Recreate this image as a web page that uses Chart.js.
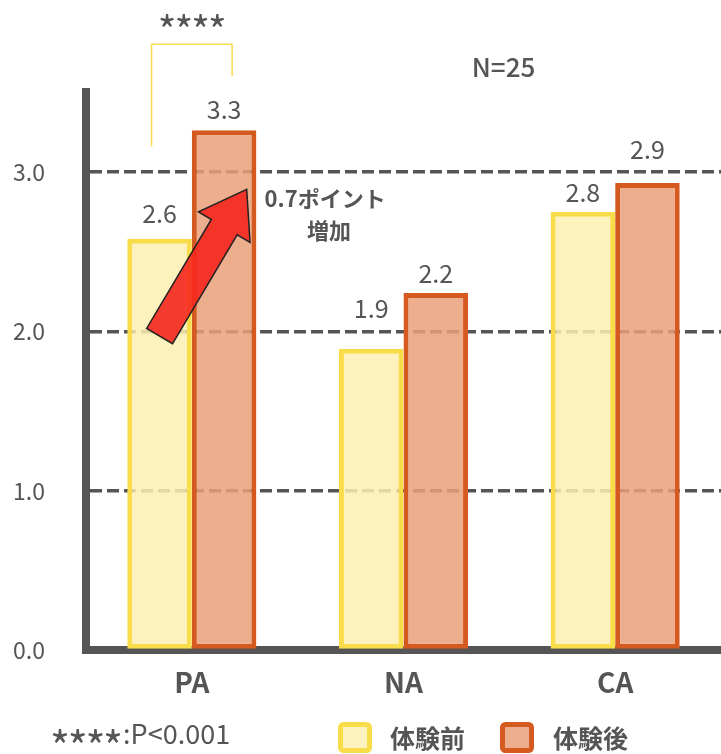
<!DOCTYPE html>
<html>
<head>
<meta charset="utf-8">
<script src="https://cdn.jsdelivr.net/npm/chart.js@4"></script>
<style>
  html, body { margin: 0; padding: 0; background: #fff; }
  #wrap { width: 721px; height: 754px; }
</style>
</head>
<body>
<div id="wrap"><canvas id="chart"></canvas></div>
<script>
const categories = ['PA', 'NA', 'CA'];
const seriesNames = ['体験前', '体験後'];
const before = [2.58, 1.89, 2.75];
const after = [3.26, 2.24, 2.93];
const yTicks = [0, 1, 2, 3];
const sampleNote = 'N=25';
const sigMark = '****';
const sigNote = ':P<0.001';
const increaseNote = ['0.7ポイント', '増加'];

const FONT = '"Noto Sans CJK JP", "Noto Sans", sans-serif';
const TEXT = '#555';
const yellowFill = 'rgba(253, 238, 178, 0.85)';
const yellowLine = '#F9DC4A';
const orangeFill = 'rgba(234, 160, 122, 0.85)';
const orangeLine = '#D55A1F';
// distance of each value label above its bar (px)
const labelGap = [[25, 40, 19], [21, 20, 33]];

function drawArrow(ctx, x0, y0, x1, y1) {
  const dx = x1 - x0, dy = y1 - y0;
  const len = Math.hypot(dx, dy);
  const ux = dx / len, uy = dy / len;
  const nx = -uy, ny = ux;
  const shaft = 15, head = 30, headLen = 44;
  const bx = x1 - ux * headLen, by = y1 - uy * headLen;
  ctx.beginPath();
  ctx.moveTo(x0 + nx * shaft, y0 + ny * shaft);
  ctx.lineTo(bx + nx * shaft, by + ny * shaft);
  ctx.lineTo(bx + nx * head, by + ny * head);
  ctx.lineTo(x1, y1);
  ctx.lineTo(bx - nx * head, by - ny * head);
  ctx.lineTo(bx - nx * shaft, by - ny * shaft);
  ctx.lineTo(x0 - nx * shaft, y0 - ny * shaft);
  ctx.closePath();
  ctx.fillStyle = 'rgba(245, 40, 30, 0.9)';
  ctx.fill();
  ctx.lineWidth = 1.5;
  ctx.strokeStyle = '#222';
  ctx.stroke();
}

// asterisks drawn one by one, sized and centred on their own glyph box
function drawStars(ctx, text, left, cy, glyphW, step) {
  ctx.save();
  ctx.textAlign = 'left';
  ctx.textBaseline = 'alphabetic';
  ctx.font = '100px ' + FONT;
  let m = ctx.measureText('*');
  const size = 100 * glyphW / (m.actualBoundingBoxRight + m.actualBoundingBoxLeft);
  ctx.font = size + 'px ' + FONT;
  m = ctx.measureText('*');
  const base = cy + (m.actualBoundingBoxAscent - m.actualBoundingBoxDescent) / 2;
  [...text].forEach((ch, i) => {
    ctx.fillText(ch, left + i * step + m.actualBoundingBoxLeft, base);
  });
  ctx.restore();
  return left + (text.length - 1) * step + glyphW;
}

const overlay = {
  id: 'overlay',
  afterDraw(chart) {
    const ctx = chart.ctx;
    const y = chart.scales.y;
    const area = chart.chartArea;
    const m0 = chart.getDatasetMeta(0).data;
    const m1 = chart.getDatasetMeta(1).data;
    ctx.save();

    // value labels
    ctx.font = '25px ' + FONT;
    ctx.fillStyle = TEXT;
    ctx.textAlign = 'center';
    ctx.textBaseline = 'middle';
    [m0, m1].forEach((bars, d) => {
      const vals = d === 0 ? before : after;
      bars.forEach((b, i) => {
        ctx.fillText(vals[i].toFixed(1), b.x, b.y - labelGap[d][i]);
      });
    });

    // increase arrow on PA
    const pa0 = m0[0], pa1 = m1[0];
    drawArrow(ctx, pa0.x, y.getPixelForValue(1.97), pa1.x + pa1.width * 0.35, y.getPixelForValue(2.89));

    ctx.font = 'bold 22px ' + FONT;
    ctx.fillStyle = TEXT;
    ctx.fillText(increaseNote[0], pa1.x + 101, y.getPixelForValue(2.83));
    ctx.fillText(increaseNote[1], pa1.x + 105, y.getPixelForValue(2.63));

    // significance bracket
    const top = y.getPixelForValue(3.8);
    const lx = pa0.x - 8, rx = pa1.x + 8;
    ctx.strokeStyle = yellowLine;
    ctx.lineWidth = 1.5;
    ctx.beginPath();
    ctx.moveTo(lx, y.getPixelForValue(3.16));
    ctx.lineTo(lx, top);
    ctx.lineTo(rx, top);
    ctx.lineTo(rx, y.getPixelForValue(3.6));
    ctx.stroke();
    ctx.fillStyle = TEXT;
    drawStars(ctx, sigMark, (lx + rx) / 2 - 32, top - 24, 14, 16.7);

    // sample size
    ctx.font = '500 26px ' + FONT;
    ctx.fillText(sampleNote, chart.scales.x.getPixelForValue(1) + 100, area.top - 25);

    // footnote
    const end = drawStars(ctx, sigMark, 52, 736, 15, 17.7);
    ctx.textAlign = 'left';
    ctx.font = '27px ' + FONT;
    ctx.fillText(sigNote, end + 3, 734);

    // legend
    const items = [
      { x: 338, fill: yellowFill, line: yellowLine, label: seriesNames[0], tx: 390 },
      { x: 500, fill: orangeFill, line: orangeLine, label: seriesNames[1], tx: 553 }
    ];
    items.forEach(it => {
      ctx.beginPath();
      ctx.roundRect(it.x + 2.5, 724.5, 29, 26, 3);
      ctx.fillStyle = it.fill;
      ctx.fill();
      ctx.strokeStyle = it.line;
      ctx.lineWidth = 5;
      ctx.stroke();
      ctx.fillStyle = TEXT;
      ctx.font = 'bold 25px ' + FONT;
      ctx.fillText(it.label, it.tx, 738);
    });
    ctx.restore();
  }
};

new Chart(document.getElementById('chart'), {
  type: 'bar',
  data: {
    labels: categories,
    datasets: [
      { label: seriesNames[0], data: before, backgroundColor: yellowFill, borderColor: yellowLine, borderWidth: 5, borderSkipped: false },
      { label: seriesNames[1], data: after, backgroundColor: orangeFill, borderColor: orangeLine, borderWidth: 5, borderSkipped: false }
    ]
  },
  options: {
    responsive: true,
    maintainAspectRatio: false,
    animation: false,
    layout: { padding: { left: 0, top: 92, right: 0, bottom: 40 } },
    datasets: { bar: { categoryPercentage: 0.61, barPercentage: 1.0 } },
    plugins: { legend: { display: false }, tooltip: { enabled: false } },
    scales: {
      x: {
        grid: { display: false, drawTicks: false },
        border: { display: true, width: 8, color: '#555' },
        ticks: { color: TEXT, padding: 15, font: { family: FONT, size: 28, weight: 'bold' } }
      },
      y: {
        min: 0,
        max: 3.5,
        afterBuildTicks: s => { s.ticks = yTicks.map(v => ({ value: v })); },
        afterFit: s => { s.width = 86; },
        grid: { drawTicks: false, lineWidth: 3.5, color: c => c.tick && c.tick.value === 0 ? 'rgba(0,0,0,0)' : '#555' },
        border: { display: true, width: 8, color: '#555', dash: [12, 5] },
        ticks: { color: TEXT, padding: 41, font: { family: FONT, size: 23 }, callback: v => Number(v).toFixed(1) }
      }
    }
  },
  plugins: [overlay]
});
</script>
</body>
</html>
